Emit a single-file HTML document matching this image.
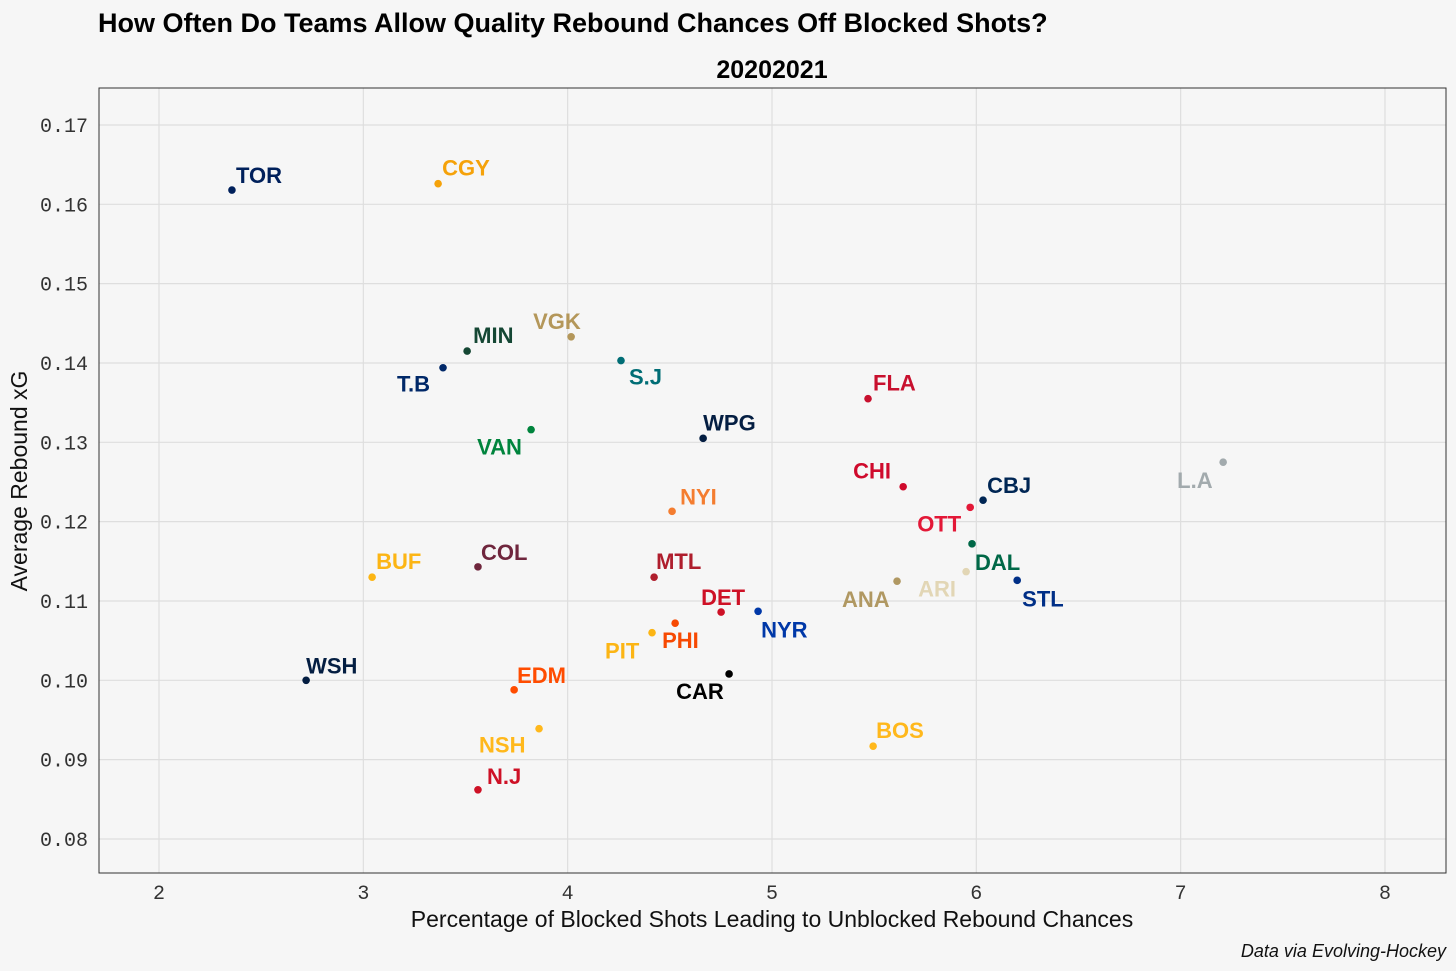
<!DOCTYPE html>
<html><head><meta charset="utf-8"><style>
body{margin:0;background:#f6f6f6;}
svg{display:block;font-family:"Liberation Sans",sans-serif;}
</style></head><body>
<svg id="chart" width="1456" height="971" viewBox="0 0 1456 971" xmlns="http://www.w3.org/2000/svg">
<rect width="1456" height="971" fill="#f6f6f6"/>
<text x="98" y="32" font-size="27" font-weight="bold" fill="#000">How Often Do Teams Allow Quality Rebound Chances Off Blocked Shots?</text>
<text x="772" y="78" font-size="25" font-weight="bold" text-anchor="middle" fill="#000">20202021</text>
<g id="grid"></g>
<rect x="99" y="88" width="1347" height="785" fill="none" stroke="#333" stroke-width="1"/>
<g id="xticks"></g>
<g id="yticks"></g>
<g id="points"></g>
<text x="772" y="927" font-size="23" text-anchor="middle" fill="#111">Percentage of Blocked Shots Leading to Unblocked Rebound Chances</text>
<text transform="translate(27,481) rotate(-90)" font-size="23" text-anchor="middle" fill="#111">Average Rebound xG</text>
<text x="1446" y="957" font-size="18" font-style="italic" text-anchor="end" fill="#111">Data via Evolving-Hockey</text>
</svg>
<script>
const teams=["TOR","CGY","MIN","T.B","VGK","S.J","VAN","WPG","FLA","CHI","CBJ","OTT","L.A","NYI","BUF","COL","MTL","DAL","ARI","ANA","STL","NYR","DET","PHI","PIT","WSH","EDM","CAR","NSH","BOS","N.J"];
const xVals=[2.357,3.366,3.508,3.390,4.017,4.261,3.821,4.663,5.470,5.642,6.033,5.970,7.208,4.511,3.043,3.561,4.423,5.979,5.950,5.612,6.200,4.932,4.751,4.526,4.413,2.720,3.738,4.790,3.860,5.495,3.561];
const yVals=[0.1618,0.1626,0.1415,0.1394,0.1433,0.1403,0.1316,0.1305,0.1355,0.1244,0.1227,0.1218,0.1275,0.1213,0.1130,0.1143,0.1130,0.1172,0.1137,0.1125,0.1126,0.1087,0.1086,0.1072,0.1060,0.1000,0.0988,0.1008,0.0939,0.0917,0.0862];
const colors=["#00205B","#F5A20A","#154734","#002868","#B4975A","#006D75","#00843D","#041E42","#C8102E","#CF0A2C","#002654","#E31837","#A2AAAD","#F47D30","#FCB514","#6F263D","#AF1E2D","#006847","#E2D6B5","#B09862","#002F87","#0038A8","#CE1126","#F74902","#FCB514","#041E42","#FF4C00","#000000","#FFB81C","#FFB81C","#CE1126"];
const xTicks=[2,3,4,5,6,7,8];
const yTicks=[0.08,0.09,0.10,0.11,0.12,0.13,0.14,0.15,0.16,0.17];
const yTickLabels=["0.08","0.09","0.10","0.11","0.12","0.13","0.14","0.15","0.16","0.17"];
// label offsets (px) – layout only
const ldx=[4,4,6,-46,-38,8,-54,0,5,-50,4,-53,-46,8,4,3,2,3,-48,-55,5,3,-20,-13,-47,0,3,-53,-60,3,9];
const ldy=[-7,-8,-8,24,-8,24,25,-8,-8,-8,-7,24,26,-7,-8,-7,-8,26,25,26,26,26,-7,25,26,-7,-7,25,24,-8,-6];
const sx=v=>159+(v-2)*204.33;
const sy=v=>125+(0.17-v)*7933;
const NS="http://www.w3.org/2000/svg";
function mk(t,a,p){const e=document.createElementNS(NS,t);for(const k in a)e.setAttribute(k,a[k]);p.appendChild(e);return e;}
const g=document.getElementById('grid'),xt=document.getElementById('xticks'),yt=document.getElementById('yticks'),pts=document.getElementById('points');
xTicks.forEach(v=>{
 const l=mk('line',{x1:sx(v),x2:sx(v),y1:88,y2:873,stroke:'#dedede','stroke-width':1.2},g);
 
 
 const t=mk('text',{x:sx(v),y:899,'font-size':20,'text-anchor':'middle',fill:'#333','font-family':'Liberation Mono, monospace'},xt);
 t.textContent=v;
 
 
});
yTicks.forEach((v,i)=>{
 const l=mk('line',{x1:99,x2:1446,y1:sy(v),y2:sy(v),stroke:'#dedede','stroke-width':1.2},g);
 
 
 const t=mk('text',{x:88,y:sy(v)+7,'font-size':20,'text-anchor':'end',fill:'#333','font-family':'Liberation Mono, monospace'},yt);
 t.textContent=yTickLabels[i];
 
 
});
teams.forEach((tm,i)=>{
 const cx=sx(xVals[i]),cy=sy(yVals[i]);
 const c=mk('circle',{cx:cx,cy:cy,r:3.8,fill:colors[i]},pts);
 
 
 const t=mk('text',{x:cx+ldx[i],y:cy+ldy[i],'font-size':22,'font-weight':'bold',fill:colors[i]},pts);
 t.textContent=tm;
 
 
});
</script>
</body></html>
